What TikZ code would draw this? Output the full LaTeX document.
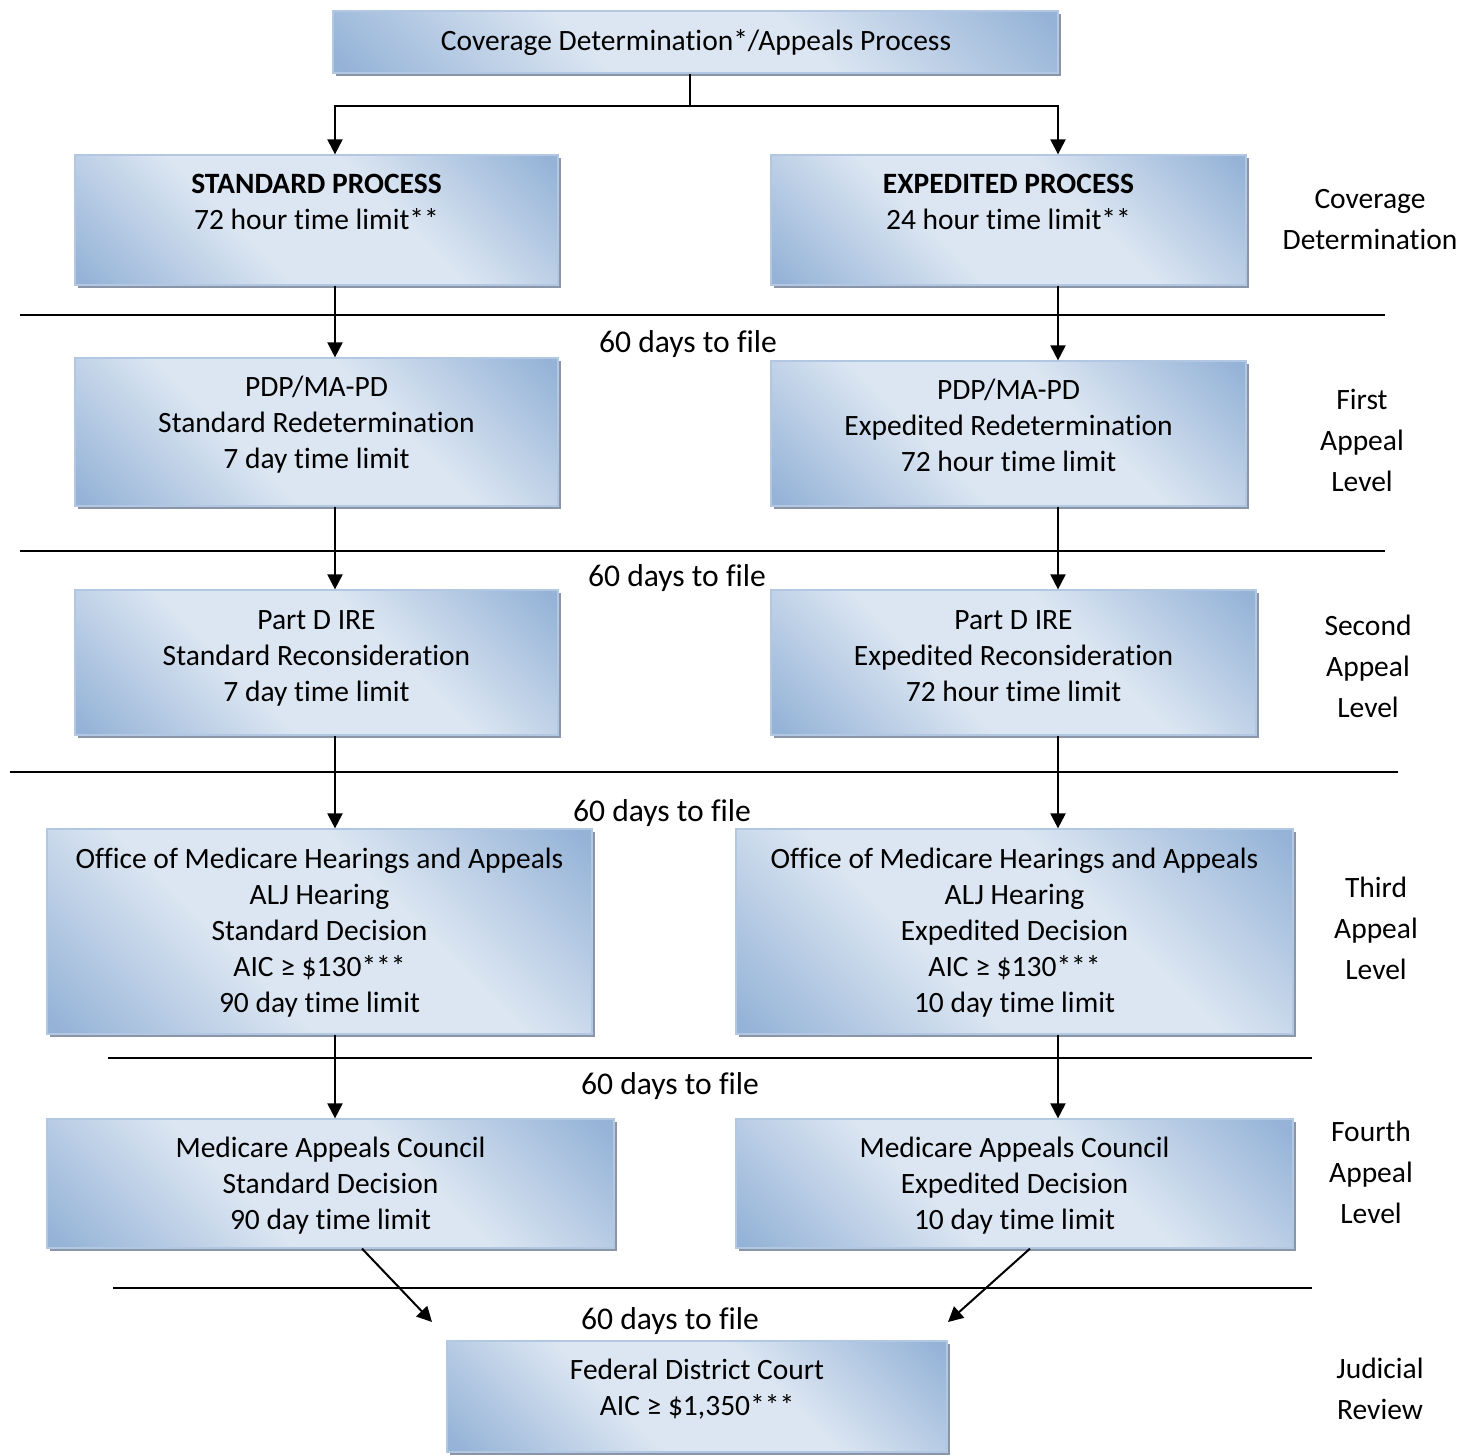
\documentclass[tikz,border=0pt]{standalone}
\usepackage{fontspec}
\setmainfont{Carlito}[Ligatures=NoCommon]
\usetikzlibrary{arrows.meta,fit,shadows}
\definecolor{bdark}{RGB}{149,179,215}
\definecolor{blight}{RGB}{220,230,242}
\definecolor{bborder}{RGB}{178,199,226}
\definecolor{shadowc}{RGB}{138,150,168}
\pgfdeclarehorizontalshading{bxshade}{100bp}{color(0bp)=(bdark); color(16bp)=(bdark); color(40bp)=(blight); color(60bp)=(blight); color(84bp)=(bdark); color(100bp)=(bdark)}
\newcommand\lines[1]{\begin{tabular}[t]{@{}c@{}}#1\end{tabular}}
\begin{document}
\begin{tikzpicture}[x=0.5pt,y=-0.5pt,
  boxst/.style={inner sep=0pt, shading=bxshade, shading angle=45, draw=bborder, line width=0.6pt,
    drop shadow={shadow xshift=1.6pt, shadow yshift=-1.6pt, fill=shadowc, opacity=1}},
  txt/.style={inner sep=0pt, anchor=base, font=\fontsize{14.75}{18}\selectfont},
  days/.style={inner sep=0pt, anchor=base, font=\fontsize{15.8}{19}\selectfont},
  side/.style={inner sep=0pt, anchor=base, font=\fontsize{14.75}{20.5}\selectfont},
  arr/.style={line width=1pt, -{Triangle[length=7.5pt,width=7.5pt]}},
  plain/.style={line width=1pt},
  sep/.style={line width=0.9pt}]
\useasboundingbox (0,0) rectangle (1473,1455);

% boxes
\node[boxst, fit={(333,11) (1058,73)}] (top) {};
\node[boxst, fit={(75,155) (558,285)}] (stdL) {};
\node[boxst, fit={(771,155) (1246,285)}] (stdR) {};
\node[boxst, fit={(75,358) (558,506)}] (pdpL) {};
\node[boxst, fit={(771,361) (1246,506)}] (pdpR) {};
\node[boxst, fit={(75,590) (558,735)}] (partL) {};
\node[boxst, fit={(771,590) (1256,735)}] (partR) {};
\node[boxst, fit={(47,829) (592,1034)}] (omL) {};
\node[boxst, fit={(736,829) (1293,1034)}] (omR) {};
\node[boxst, fit={(47,1119) (614,1248)}] (macL) {};
\node[boxst, fit={(736,1119) (1293,1248)}] (macR) {};
\node[boxst, fit={(447,1341) (947,1452)}] (fed) {};

% box texts
\node[txt] (topt) at (696,50.5) {Coverage Determination*/Appeals Process};
\node[txt] (stdLt) at (316.5,194) {\lines{\textbf{STANDARD PROCESS}\\72 hour time limit**}};
\node[txt] (stdRt) at (1008.5,194) {\lines{\textbf{EXPEDITED PROCESS}\\24 hour time limit**}};
\node[txt] (pdpLt) at (316.5,396.5) {\lines{PDP/MA-PD\\Standard Redetermination\\7 day time limit}};
\node[txt] (pdpRt) at (1008.5,399.5) {\lines{PDP/MA-PD\\Expedited Redetermination\\72 hour time limit}};
\node[txt] (partLt) at (316.5,629.5) {\lines{Part D IRE\\Standard Reconsideration\\7 day time limit}};
\node[txt] (partRt) at (1013.5,629.5) {\lines{Part D IRE\\Expedited Reconsideration\\72 hour time limit}};
\node[txt] (omLt) at (319.5,868.5) {\lines{Office of Medicare Hearings and Appeals\\ALJ Hearing\\Standard Decision\\AIC ≥ \$130***\\90 day time limit}};
\node[txt] (omRt) at (1014.5,868.5) {\lines{Office of Medicare Hearings and Appeals\\ALJ Hearing\\Expedited Decision\\AIC ≥ \$130***\\10 day time limit}};
\node[txt] (macLt) at (330.5,1157.5) {\lines{Medicare Appeals Council\\Standard Decision\\90 day time limit}};
\node[txt] (macRt) at (1014.5,1157.5) {\lines{Medicare Appeals Council\\Expedited Decision\\10 day time limit}};
\node[txt] (fedt) at (697,1379.5) {\lines{Federal District Court\\AIC ≥ \$1,350***}};

% separators
\draw[sep] (20,315) -- (1385,315);
\draw[sep] (20,551) -- (1385,551);
\draw[sep] (10,772) -- (1398,772);
\draw[sep] (108,1058) -- (1312,1058);
\draw[sep] (113,1288) -- (1312,1288);

% 60 days labels
\node[days] (d1) at (688,352) {60 days to file};
\node[days] (d2) at (677,586) {60 days to file};
\node[days] (d3) at (662,821) {60 days to file};
\node[days] (d4) at (670,1094) {60 days to file};
\node[days] (d5) at (670,1329) {60 days to file};

% side labels
\node[side] (s0) at (1370,208.5) {\lines{Coverage\\Determination}};
\node[side] (s1) at (1362,409.5) {\lines{First\\Appeal\\Level}};
\node[side] (s2) at (1368,635.5) {\lines{Second\\Appeal\\Level}};
\node[side] (s3) at (1376,897.5) {\lines{Third\\Appeal\\Level}};
\node[side] (s4) at (1371,1141.5) {\lines{Fourth\\Appeal\\Level}};
\node[side] (s5) at (1380,1378.5) {\lines{Judicial\\Review}};

% connectors
\coordinate (lx) at (335,0);
\coordinate (rx) at (1058,0);
\coordinate (tc) at (690,106);
\draw[plain] (top.south -| tc) -- (tc);
\draw[arr] (tc) -| (stdL.north -| lx);
\draw[arr] (tc) -| (stdR.north -| rx);
\draw[arr] (stdL.south -| lx) -- (pdpL.north -| lx);
\draw[arr] (stdR.south -| rx) -- (pdpR.north -| rx);
\draw[arr] (pdpL.south -| lx) -- (partL.north -| lx);
\draw[arr] (pdpR.south -| rx) -- (partR.north -| rx);
\draw[arr] (partL.south -| lx) -- (omL.north -| lx);
\draw[arr] (partR.south -| rx) -- (omR.north -| rx);
\draw[arr] (omL.south -| lx) -- (macL.north -| lx);
\draw[arr] (omR.south -| rx) -- (macR.north -| rx);
\coordinate (dlx) at (362,0);
\coordinate (drx) at (1030,0);
\coordinate (fl) at (432,1322);
\coordinate (fr) at (948,1322);
\draw[arr] (macL.south -| dlx) -- (fl);
\draw[arr] (macR.south -| drx) -- (fr);
\end{tikzpicture}
\end{document}
